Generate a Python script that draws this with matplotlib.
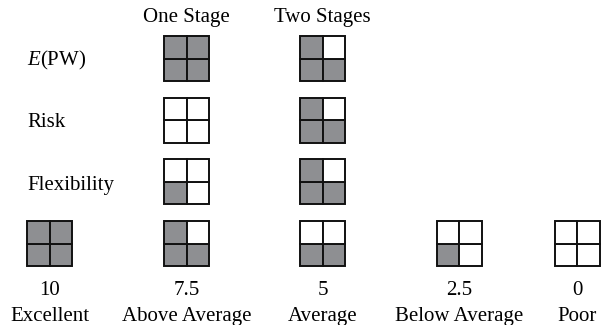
import matplotlib
matplotlib.use("Agg")
import matplotlib.pyplot as plt
from matplotlib.patches import Rectangle

# ---- data ----
alternatives = ["One Stage", "Two Stages"]
criteria = ["E(PW)", "Risk", "Flexibility"]
criteria_labels = ["$\\mathit{E}$(PW)", "Risk", "Flexibility"]
one_stage_scores = [10, 0, 2.5]
two_stage_scores = [7.5, 7.5, 7.5]
scale_values = [10, 7.5, 5, 2.5, 0]
scale_value_labels = ["10", "7.5", "5", "2.5", "0"]
scale_names = ["Excellent", "Above Average", "Average", "Below Average", "Poor"]

# ---- layout (pixels) ----
W, H = 604, 325
col_x = [186.5, 322.5]
scale_x = [49.5, 186.5, 322.5, 459, 577]
row_y = [58.5, 120, 181.5]
label_baseline = [65, 127, 190]
scale_box_y = 243.5
box = 45
gray = "#8e8f92"
lw = 1.4
fs = 15

plt.rcParams["font.family"] = ["Liberation Serif", "DejaVu Serif"]
plt.rcParams["mathtext.fontset"] = "custom"
plt.rcParams["mathtext.rm"] = "Liberation Serif"
plt.rcParams["mathtext.it"] = "Liberation Serif:italic"

fig = plt.figure(figsize=(W / 100, H / 100), dpi=100)
ax = fig.add_axes([0, 0, 1, 1])
ax.set_xlim(0, W)
ax.set_ylim(H, 0)
ax.axis("off")


def draw_box(cx, cy, score):
    n = int(round(score / 2.5))
    half = box / 2
    # quadrant order of filling: bottom-left, bottom-right, top-left, top-right
    quads = [(0, 1), (1, 1), (0, 0), (1, 0)]
    for i, (qx, qy) in enumerate(quads):
        x0 = cx - half + qx * half
        y0 = cy - half + qy * half
        ax.add_patch(Rectangle((x0, y0), half, half,
                               facecolor=gray if i < n else "white",
                               edgecolor="#111111", linewidth=lw))


for x, name in zip(col_x, alternatives):
    ax.text(x, 22, name, ha="center", va="baseline", fontsize=fs)

for yb, lab in zip(label_baseline, criteria_labels):
    ax.text(27, yb, lab, ha="left", va="baseline", fontsize=fs)

for r, y in enumerate(row_y):
    draw_box(col_x[0], y, one_stage_scores[r])
    draw_box(col_x[1], y, two_stage_scores[r])

for x, v, vl, nm in zip(scale_x, scale_values, scale_value_labels, scale_names):
    draw_box(x, scale_box_y, v)
    ax.text(x, 295, vl, ha="center", va="baseline", fontsize=fs)
    ax.text(x, 321, nm, ha="center", va="baseline", fontsize=fs)

fig.savefig("out.png", dpi=100)
